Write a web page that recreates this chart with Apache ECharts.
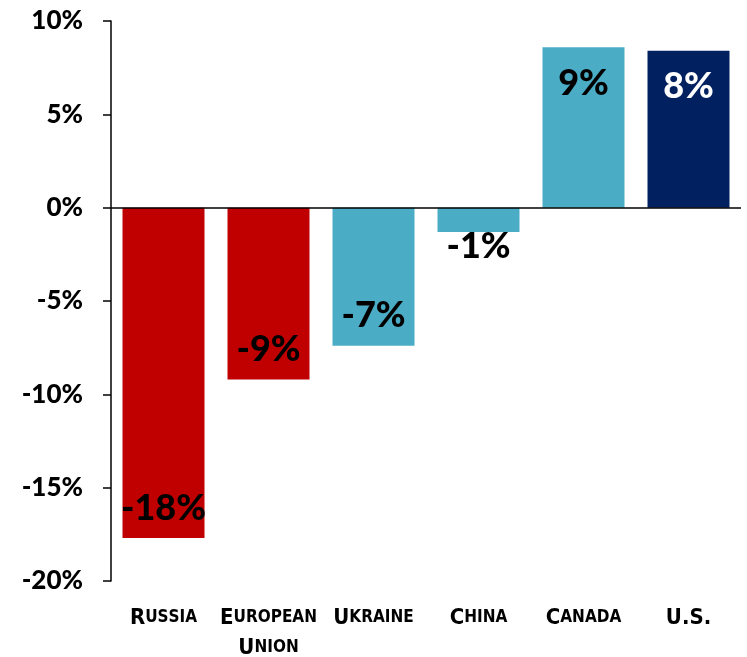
<!DOCTYPE html>
<html>
<head>
<meta charset="utf-8">
<script src="https://cdn.jsdelivr.net/npm/echarts@6/dist/echarts.min.js"></script>
<style>
  html, body { margin: 0; padding: 0; background: #ffffff; }
  #chart { width: 747px; height: 657px; }
</style>
</head>
<body>
<div id="chart"></div>
<script>
// Change by country, in percent
const categories = ['Russia', 'European\nUnion', 'Ukraine', 'China', 'Canada', 'U.S.'];
const values = [-17.7, -9.2, -7.4, -1.3, 8.6, 8.4];
const yTicks = { min: -20, max: 10, step: 5 };

// Bar fills and label colours, one per country
const barColors = ['#C00000', '#C00000', '#4BACC6', '#4BACC6', '#4BACC6', '#002060'];
const labelColors = ['#000000', '#000000', '#000000', '#000000', '#000000', '#ffffff'];

const numFont = 'Lato, "Noto Sans", sans-serif';
const capFont = '"DejaVu Sans Condensed", "Liberation Sans Narrow", sans-serif';

// Turn "Russia" into small caps: capitals large, lower-case letters as smaller capitals
function smallCaps(text) {
  return text.split('\n').map(function (line) {
    let out = '';
    for (const ch of line) {
      if (ch === ' ') { out += '{c| }'; continue; }
      if (ch !== ch.toUpperCase()) out += '{s|' + ch.toUpperCase() + '}';
      else out += '{c|' + ch + '}';
    }
    return out;
  }).join('\n');
}

function labelPlacement(v) {
  if (v >= 0) return { position: 'insideTop', distance: 18 };
  if (v > -3) return { position: 'bottom', distance: -4 };
  return { position: 'insideBottom', distance: 12 };
}

const seriesData = values.map(function (v, i) {
  const p = labelPlacement(v);
  return {
    value: v,
    itemStyle: { color: barColors[i] },
    label: { position: p.position, distance: p.distance, color: labelColors[i] }
  };
});

const chart = echarts.init(document.getElementById('chart'), null, { renderer: 'canvas' });
chart.setOption({
  backgroundColor: '#ffffff',
  animation: false,
  grid: { left: 111, right: 6, top: 21, bottom: 76, containLabel: false, outerBoundsMode: 'none' },
  xAxis: {
    type: 'category',
    data: categories,
    position: 'bottom',
    axisLine: { show: false, onZero: false },
    axisTick: { show: false },
    axisLabel: {
      interval: 0,
      margin: 22,
      formatter: smallCaps,
      rich: {
        c: { fontFamily: capFont, fontWeight: 'bold', fontSize: 22, color: '#000', lineHeight: 30 },
        s: { fontFamily: capFont, fontWeight: 'bold', fontSize: 17, color: '#000', lineHeight: 30 }
      }
    }
  },
  yAxis: {
    type: 'value',
    min: yTicks.min,
    max: yTicks.max,
    interval: yTicks.step,
    splitLine: { show: false },
    axisLine: { show: true, lineStyle: { color: '#000', width: 1.5 } },
    axisTick: { show: true, length: 8, lineStyle: { color: '#000', width: 1.5 } },
    axisLabel: {
      margin: 28,
      formatter: '{value}%',
      fontFamily: numFont,
      fontWeight: 900,
      fontSize: 26,
      color: '#000'
    }
  },
  series: [{
    type: 'bar',
    barWidth: 82,
    data: seriesData,
    label: {
      show: true,
      fontFamily: numFont,
      fontWeight: 900,
      fontSize: 36,
      formatter: function (p) { return Math.round(p.value) + '%'; }
    },
    markLine: {
      silent: true,
      symbol: 'none',
      label: { show: false },
      lineStyle: { color: '#000', width: 1.5, type: 'solid' },
      data: [{ yAxis: 0 }]
    }
  }]
});
</script>
</body>
</html>
